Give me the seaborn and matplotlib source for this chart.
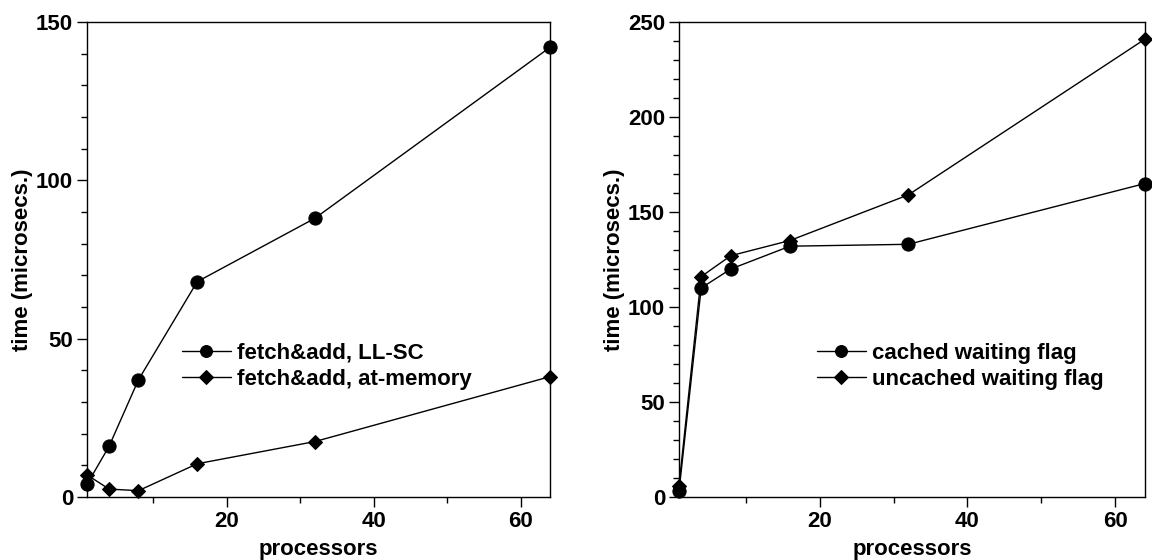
import matplotlib
matplotlib.use("Agg")
import matplotlib.pyplot as plt
import seaborn as sns
import pandas as pd
from matplotlib.ticker import MultipleLocator

sns.set_theme(style="ticks")
plt.rcParams['font.family'] = ['Liberation Sans', 'DejaVu Sans']
plt.rcParams['font.weight'] = 'bold'
for k in ['text.color', 'axes.labelcolor', 'xtick.color', 'ytick.color', 'axes.edgecolor']:
    plt.rcParams[k] = 'black'

processors = [1, 4, 8, 16, 32, 64]
llsc = [4, 16, 37, 68, 88, 142]
atmem = [7, 2.5, 2, 10.5, 17.5, 38]
cached = [3, 110, 120, 132, 133, 165]
uncached = [6, 116, 127, 135, 159, 241]

left_labels = ["fetch&add, LL-SC", "fetch&add, at-memory"]
right_labels = ["cached waiting flag", "uncached waiting flag"]

fig = plt.figure(figsize=(11.52, 5.6), dpi=100)
ax1 = fig.add_axes([87/1152, 63/560, 463/1152, 475/560])
ax2 = fig.add_axes([679/1152, 63/560, 466/1152, 475/560])

def draw(ax, ys, labels, ymax, legend_anchor):
    for y, lab, mk in zip(ys, labels, ["o", "D"]):
        df = pd.DataFrame({"processors": processors, "time": y})
        sns.lineplot(data=df, x="processors", y="time", ax=ax, color="black",
                     marker=mk, markersize=9.5 if mk == "o" else 7.5, markeredgecolor="black",
                     linewidth=1, label=lab, clip_on=False)
    ax.set_xlim(1, 64)
    ax.set_ylim(0, ymax)
    ax.xaxis.set_major_locator(MultipleLocator(20))
    ax.xaxis.set_minor_locator(MultipleLocator(10))
    ax.yaxis.set_major_locator(MultipleLocator(50))
    ax.yaxis.set_minor_locator(MultipleLocator(10))
    ax.tick_params(axis="both", which="major", length=7, width=1, labelsize=16, direction="out", pad=3, color="black")
    ax.tick_params(axis="both", which="minor", length=4, width=1, direction="out", color="black")
    ax.tick_params(top=False, right=False, which="both")
    for lab in ax.get_xticklabels() + ax.get_yticklabels():
        lab.set_fontweight("bold")
    for s in ax.spines.values():
        s.set_visible(True)
        s.set_linewidth(1)
        s.set_color("black")
    ax.set_xlabel("processors", fontsize=16, fontweight="bold", labelpad=5)
    ax.set_ylabel("time (microsecs.)", fontsize=16, fontweight="bold", labelpad=2)
    leg = ax.legend(loc="upper left", bbox_to_anchor=legend_anchor, frameon=False, fontsize=16,
                    handlelength=2.2, handletextpad=0.3, labelspacing=0.25,
                    borderaxespad=0, borderpad=0, markerscale=0.9)
    for t in leg.get_texts():
        t.set_fontweight("bold")
        t.set_color("black")

draw(ax1, [llsc, atmem], left_labels, 150, (0.205, 0.325))
draw(ax2, [cached, uncached], right_labels, 250, (0.296, 0.325))

fig.savefig("out.png", dpi=100)
